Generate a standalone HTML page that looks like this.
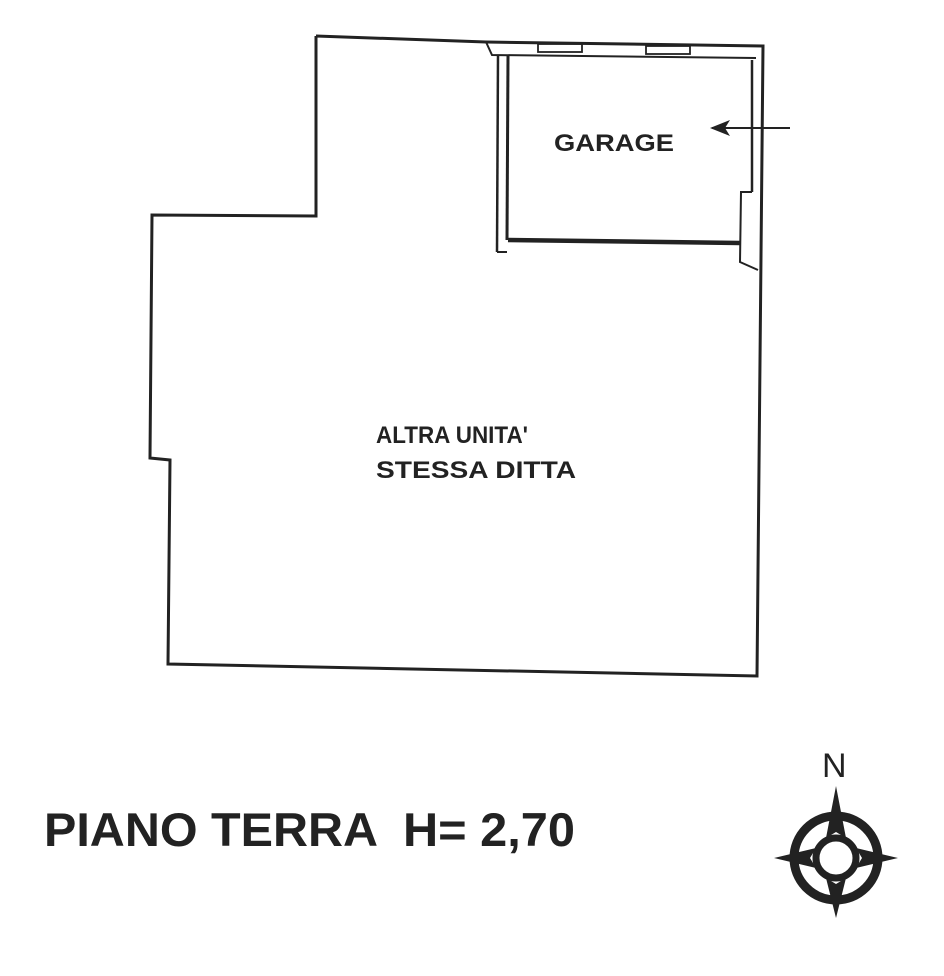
<!DOCTYPE html>
<html><head><style>
html,body{margin:0;padding:0;background:#fff;}
svg{display:block}
text{font-family:"Liberation Sans",Arial,sans-serif;font-weight:bold;fill:#222}
</style></head><body>
<svg width="944" height="976" viewBox="0 0 944 976" xmlns="http://www.w3.org/2000/svg">
<rect width="944" height="976" fill="#fff"/>
<polyline points="316,36 316,216 152,215 150,458 170,460 168,664 757,676 763,46 486,42 316,36" fill="none" stroke="#222" stroke-width="3"/>
<polyline points="486,42 492,55 756,58" fill="none" stroke="#222" stroke-width="2"/>
<rect x="538" y="44" width="44" height="8" fill="none" stroke="#222" stroke-width="1.8"/>
<rect x="646" y="46" width="44" height="8" fill="none" stroke="#222" stroke-width="1.8"/>
<line x1="498" y1="55" x2="497" y2="252" stroke="#222" stroke-width="2.5"/>
<line x1="508" y1="56" x2="507" y2="240" stroke="#222" stroke-width="3"/>
<line x1="497" y1="252" x2="507" y2="252" stroke="#222" stroke-width="2"/>
<line x1="508" y1="240" x2="740" y2="243" stroke="#222" stroke-width="4.5"/>
<line x1="752" y1="60" x2="752" y2="192" stroke="#222" stroke-width="2.5"/>
<polyline points="752,192 741,192 740,262 758,270" fill="none" stroke="#222" stroke-width="2"/>
<line x1="712" y1="128" x2="790" y2="128" stroke="#222" stroke-width="2"/>
<polygon points="710,128 730,120 725,128 730,136" fill="#222"/>
<text x="554" y="151" font-size="24" textLength="120" lengthAdjust="spacingAndGlyphs">GARAGE</text>
<text x="376" y="443" font-size="24" textLength="152" lengthAdjust="spacingAndGlyphs">ALTRA UNITA'</text>
<text x="376" y="478" font-size="24" textLength="200" lengthAdjust="spacingAndGlyphs">STESSA DITTA</text>
<text x="44" y="846" font-size="47" textLength="334" lengthAdjust="spacingAndGlyphs">PIANO TERRA</text>
<text x="403" y="846" font-size="47" textLength="172" lengthAdjust="spacingAndGlyphs">H= 2,70</text>
<text x="822" y="777" font-size="34" style="font-weight:normal">N</text>
<g transform="translate(836,858)" fill="#222">
<circle r="42" fill="none" stroke="#222" stroke-width="9"/>
<circle r="20" fill="none" stroke="#222" stroke-width="7"/>
<polygon points="0,-72 10,-20 0,-26 -10,-20" />
<polygon points="0,60 10,20 0,26 -10,20" />
<polygon points="-62,0 -20,-10 -26,0 -20,10" />
<polygon points="62,0 20,-10 26,0 20,10" />
</g>
</svg>
</body></html>
